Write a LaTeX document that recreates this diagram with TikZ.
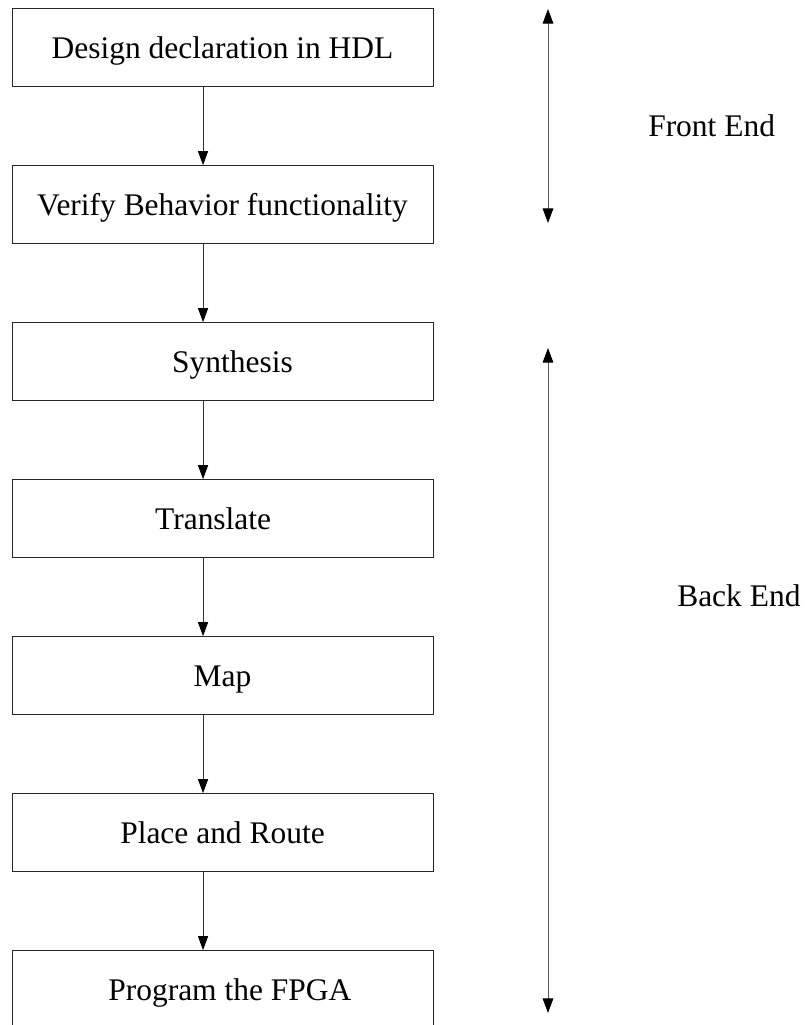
\documentclass[tikz,border=0pt]{standalone}
\usepackage{fontspec}
\setmainfont{Liberation Serif}
\usetikzlibrary{arrows.meta}
\begin{document}
\begin{tikzpicture}[x=0.75pt,y=-0.75pt,
  stage/.style={draw=black!85, line width=0.75pt, minimum width=315.75pt,
    minimum height=58.5pt, inner sep=0pt, text height=15.6pt, text depth=0pt,
    font=\fontsize{23.6}{28}\selectfont},
  flow/.style={draw=black!80, line width=0.75pt,
    -{Triangle[length=10.5pt,width=7.5pt,color=black]}},
  span/.style={draw=black!65, line width=0.75pt,
    {Triangle[length=11pt,width=8pt,color=black]}-{Triangle[length=11pt,width=8pt,color=black]}},
  tag/.style={font=\fontsize{23.6}{28}\selectfont, inner sep=0pt, anchor=base west}]
  \useasboundingbox (0,0) rectangle (804,1025);

  % design flow stages
  \node[stage] (hdl)    at (222.5,47.7)  {Design declaration in HDL};
  \node[stage] (verify) at (222.5,204.7) {Verify Behavior functionality};
  \node[stage] (synth)  at (222.5,361.7) {\hspace*{15pt}Synthesis};
  \node[stage] (trans)  at (222.5,518.7) {Translate\hspace*{14pt}};
  \node[stage] (map)    at (222.5,675.7) {Map};
  \node[stage] (par)    at (222.5,832.7) {Place and Route};
  \node[stage] (prog)   at (222.5,989.7) {\hspace*{11pt}Program the FPGA};

  % connectors run left of the box centres
  \foreach \a/\b in {hdl/verify, verify/synth, synth/trans, trans/map, map/par, par/prog}
    \draw[flow] ([xshift=-14.6pt]\a.south) -- ([xshift=-14.6pt]\b.north);

  % phase extents
  \coordinate (feTop) at (548,9);
  \coordinate (feBot) at (548,223);
  \coordinate (beTop) at (548,348);
  \coordinate (beBot) at (548,1013);
  \draw[span] (feTop) -- (feBot);
  \draw[span] (beTop) -- (beBot);

  \node[tag] (fe) at (648,136) {Front End};
  \node[tag] (be) at (677,606) {Back End};
\end{tikzpicture}
\end{document}
